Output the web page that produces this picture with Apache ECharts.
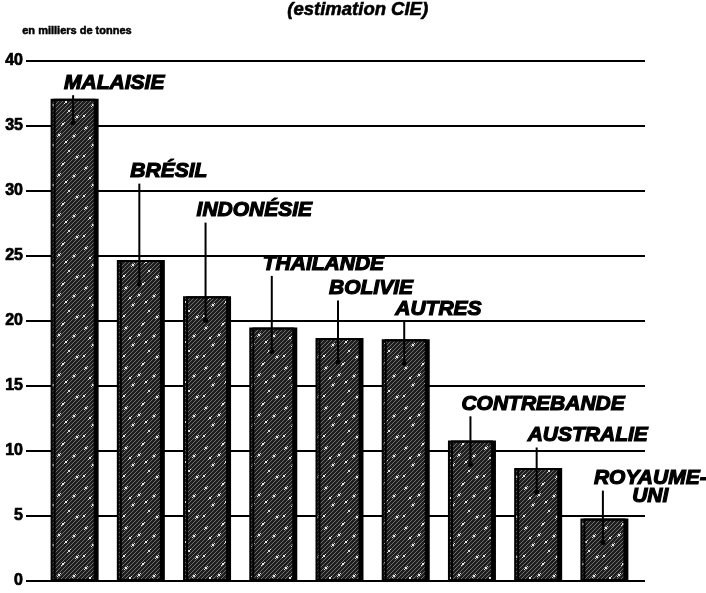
<!DOCTYPE html>
<html><head><meta charset="utf-8">
<script src="https://cdn.jsdelivr.net/npm/echarts@6/dist/echarts.min.js"></script>
<style>html,body{margin:0;padding:0;background:#fff}#c{width:706px;height:593px}</style>
</head><body><div id="c"></div>
<script>
// ---- data ----
const categories = ['MALAISIE','BRÉSIL','INDONÉSIE','THAILANDE','BOLIVIE','AUTRES','CONTREBANDE','AUSTRALIE','ROYAUME-\nUNI'];
const values = [37.1, 24.7, 21.9, 19.5, 18.7, 18.6, 10.8, 8.7, 4.8];
// level (axis units) of the bottom of each bar label
const labelLevels = [37.6, 30.8, 27.8, 23.7, 21.8, 20.2, 12.9, 10.5, 5.8];
const yMin = 0, yMax = 40, yStep = 5;
const titleText = '(estimation CIE)';
const unitText = 'en milliers de tonnes';

// ---- styling helpers ----
const LABEL_FONT = 'italic bold 21px "Liberation Sans", Arial, sans-serif';
const mctx = document.createElement('canvas').getContext('2d');
function measure(t){ mctx.font = LABEL_FONT; return mctx.measureText(t).width; }

function makePattern(){
  const c = document.createElement('canvas'); c.width = c.height = 40;
  const g = c.getContext('2d');
  g.fillStyle = '#1e1e1e'; g.fillRect(0,0,40,40);
  g.strokeStyle = '#6e6e6e'; g.lineWidth = 1;
  for (let k = -40; k < 80; k += 4){ g.beginPath(); g.moveTo(k,40); g.lineTo(k+40,0); g.stroke(); }
  g.fillStyle = '#e4e4e4';
  const specks = [[5,7],[22,3],[33,15],[12,24],[28,30],[3,35],[18,14],[36,36],[9,17],[25,21]];
  specks.forEach(([x,y]) => { g.fillRect(x,y,2,2); g.fillRect(x+2,y-1,1,1); g.fillRect(x-1,y+2,1,1); });
  return c;
}

const chart = echarts.init(document.getElementById('c'), null, {renderer:'canvas'});
const gridTop = 61, gridBottom = 12;

chart.setOption({
  animation: false,
  backgroundColor: '#fff',
  graphic: [
    {type:'text', left: 287, top: 0, style:{text: titleText, font: 'italic bold 18.5px "Liberation Sans", Arial, sans-serif', fill:'#000', stroke:'#000', lineWidth:0.6}},
    {type:'text', left: 22, top: 25, style:{text: unitText, font: 'bold 11px "Liberation Sans", Arial, sans-serif', fill:'#000', stroke:'#000', lineWidth:0.5}}
  ],
  grid: [
    {left: 26, right: 61, top: gridTop, bottom: gridBottom},
    {left: 40, right: 70, top: gridTop, bottom: gridBottom}
  ],
  xAxis: [
    {gridIndex:0, type:'value', min:0, max:1, show:false},
    {gridIndex:1, type:'category', data: categories, show:false}
  ],
  yAxis: [
    {gridIndex:0, type:'value', min:yMin, max:yMax, interval:yStep,
     axisLine:{show:false}, axisTick:{show:false},
     splitLine:{show:true, lineStyle:{color:'#000', width:2}},
     axisLabel:{color:'#000', fontWeight:'bold', fontSize:16, margin:3, textBorderColor:'#000', textBorderWidth:0.7,
                fontFamily:'"Liberation Sans", Arial, sans-serif'}},
    {gridIndex:1, type:'value', min:yMin, max:yMax, interval:yStep, show:false, splitLine:{show:false}}
  ],
  series: [
    {type:'bar', xAxisIndex:1, yAxisIndex:1, data: values, barWidth: 45, z: 2,
     itemStyle:{color:{image: makePattern(), repeat:'repeat'}, borderColor:'#000', borderWidth:2,
                shadowColor:'#000', shadowOffsetX:3, shadowOffsetY:0, shadowBlur:0}},
    {type:'custom', xAxisIndex:1, yAxisIndex:1, z: 3, clip:false,
     data: categories.map((c,i) => [i, values[i], labelLevels[i]]),
     renderItem: function(params, api){
       const i = api.value(0), v = api.value(1), lv = api.value(2);
       const top = api.coord([i, v]);
       const lab = api.coord([i, lv]);
       const name = categories[i];
       const lines = name.split('\n');
       const lh = 18;
       const w = Math.max.apply(null, lines.map(measure));
       const x = top[0];
       const left = x - 9;
       const lineStart = lab[1] - (lines.length - 1) * lh + 3;
       const lineEnd = top[1] + 24;
       return {type:'group', children:[
         {type:'line', shape:{x1:x, y1:lineStart, x2:x, y2:lineEnd}, style:{stroke:'#000', lineWidth:2}},
         {type:'circle', shape:{cx:x, cy:lineEnd, r:2.5}, style:{fill:'#000'}},
         {type:'text', x: left + w/2, y: lab[1], style:{text:name, font:LABEL_FONT, fill:'#000', stroke:'#000', lineWidth:1.2,
            align:'center', verticalAlign:'bottom', lineHeight:lh}}
       ]};
     }}
  ]
});
</script>
</body></html>
